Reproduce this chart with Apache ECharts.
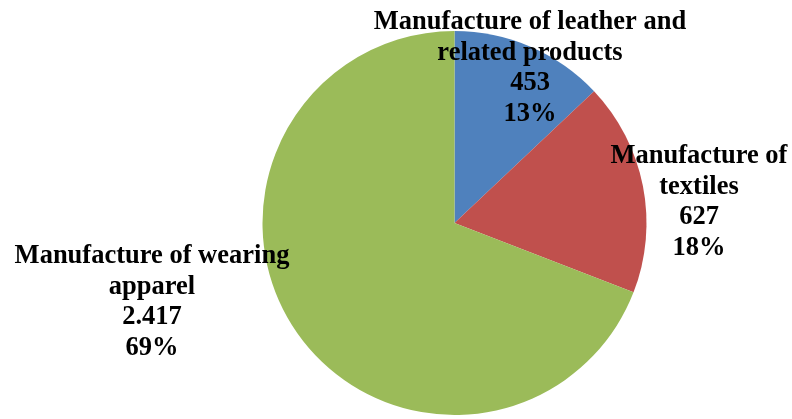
<!DOCTYPE html>
<html>
<head>
<meta charset="utf-8">
<script src="https://cdn.jsdelivr.net/npm/echarts@6/dist/echarts.min.js"></script>
<style>
html,body{margin:0;padding:0;background:#fff;}
#chart{width:792px;height:419px;}
</style>
</head>
<body>
<div id="chart"></div>
<script>
const categories = ['Manufacture of leather and\nrelated products', 'Manufacture of\ntextiles', 'Manufacture of wearing\napparel'];
const values = [453, 627, 2417];
const colors = ['#4F81BD', '#C0504D', '#9BBB59'];
const labelSpots = [[530, 68], [699, 202], [152, 302]];

function fmt(v) {
  return String(v).replace(/\B(?=(\d{3})+(?!\d))/g, '.');
}

const chart = echarts.init(document.getElementById('chart'), null, {renderer: 'canvas'});
chart.setOption({
  animation: false,
  backgroundColor: '#ffffff',
  series: [{
    type: 'pie',
    center: [454.5, 223],
    radius: 192,
    startAngle: 90,
    clockwise: true,
    avoidLabelOverlap: false,
    itemStyle: {borderWidth: 0},
    emphasis: {disabled: true},
    labelLine: {show: false},
    label: {
      show: true,
      position: 'outside',
      color: '#000',
      fontFamily: 'Liberation Serif',
      fontWeight: 'bold',
      fontSize: 26.5,
      lineHeight: 30.5,
      align: 'center',
      formatter: p => p.name + '\n' + fmt(p.value) + '\n' + Math.round(p.percent) + '%'
    },
    labelLayout: p => ({
      x: labelSpots[p.dataIndex][0],
      y: labelSpots[p.dataIndex][1],
      align: 'center',
      verticalAlign: 'middle',
      hideOverlap: false
    }),
    data: categories.map((c, i) => ({name: c, value: values[i], itemStyle: {color: colors[i]}}))
  }]
});
</script>
</body>
</html>
